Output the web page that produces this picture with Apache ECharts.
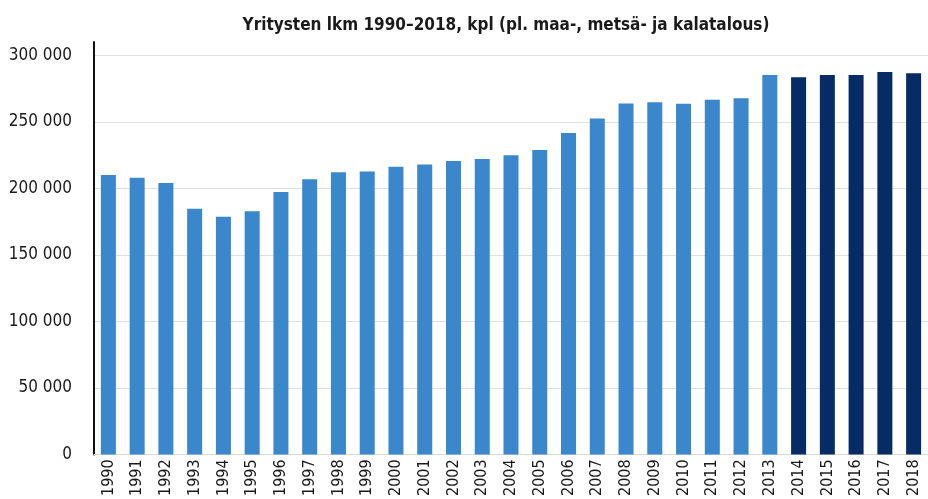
<!DOCTYPE html>
<html>
<head>
<meta charset="utf-8">
<script src="https://cdn.jsdelivr.net/npm/echarts@6/dist/echarts.min.js"></script>
<style>
  html, body { margin: 0; padding: 0; background: #fff; }
  #main { width: 928px; height: 499px; }
</style>
</head>
<body>
<div id="main"></div>
<script>
// vuodet ja yritysten lukumäärät
var years = ['1990','1991','1992','1993','1994','1995','1996','1997','1998','1999',
  '2000','2001','2002','2003','2004','2005','2006','2007','2008','2009',
  '2010','2011','2012','2013','2014','2015','2016','2017','2018']
var counts = [210000, 208000, 204000, 184700, 178700, 182700, 197200, 206800, 212000, 212600,
  216300, 218000, 220500, 222000, 224800, 228800, 241600, 252400, 263700, 264700,
  263600, 266600, 267700, 285200, 283500, 285200, 285200, 287500, 286500]
var lastOldYear = '2013'  // tästä eteenpäin tummempi väri
var yTicks = [0, 50000, 100000, 150000, 200000, 250000, 300000]

var font = '"Liberation Sans Narrow", "DejaVu Sans Condensed", sans-serif'
var lightBlue = '#3a87cb'
var darkBlue = '#062c66'

var barData = counts.map(function (v, i) {
  return {
    value: v,
    itemStyle: { color: years[i] > lastOldYear ? darkBlue : lightBlue }
  }
})

// väli tyhjä tuhaterottimena
function fmt(v) {
  return String(v).replace(/\B(?=(\d{3})+(?!\d))/g, ' ')
}

var myChart = echarts.init(document.getElementById('main'))
myChart.setOption({
  animation: false,
  title: {
    text: 'Yritysten lkm 1990–2018, kpl (pl. maa-, metsä- ja kalatalous)',
    left: 501,
    top: 12,
    textAlign: 'center',
    textStyle: { fontFamily: font, fontSize: 17, fontWeight: 'bold', color: '#1a1a1a' }
  },
  grid: { left: 94, right: -7, top: 42, bottom: 44 },
  xAxis: {
    type: 'category',
    data: years,
    axisLine: { lineStyle: { color: '#d9d9d9', width: 1 } },
    axisTick: { show: false },
    axisLabel: {
      rotate: 90, interval: 0, margin: 5,
      fontFamily: font, fontSize: 16, color: '#1a1a1a'
    }
  },
  yAxis: {
    type: 'value',
    min: 0,
    max: 310000,
    interval: 50000,
    axisLine: { show: true, lineStyle: { color: '#111', width: 2 } },
    axisTick: { show: false },
    splitLine: {
      lineStyle: {
        color: ['#e0e0e0', '#e0e0e0', '#e0e0e0', '#e0e0e0', '#e0e0e0', '#e0e0e0', '#e0e0e0', 'rgba(0,0,0,0)']
      }
    },
    axisLabel: {
      margin: 22,
      fontFamily: font, fontSize: 17, color: '#1a1a1a',
      formatter: function (v) { return yTicks.indexOf(v) >= 0 ? fmt(v) : '' }
    }
  },
  series: [{
    type: 'bar',
    data: barData,
    barWidth: 15
  }]
})
</script>
</body>
</html>
